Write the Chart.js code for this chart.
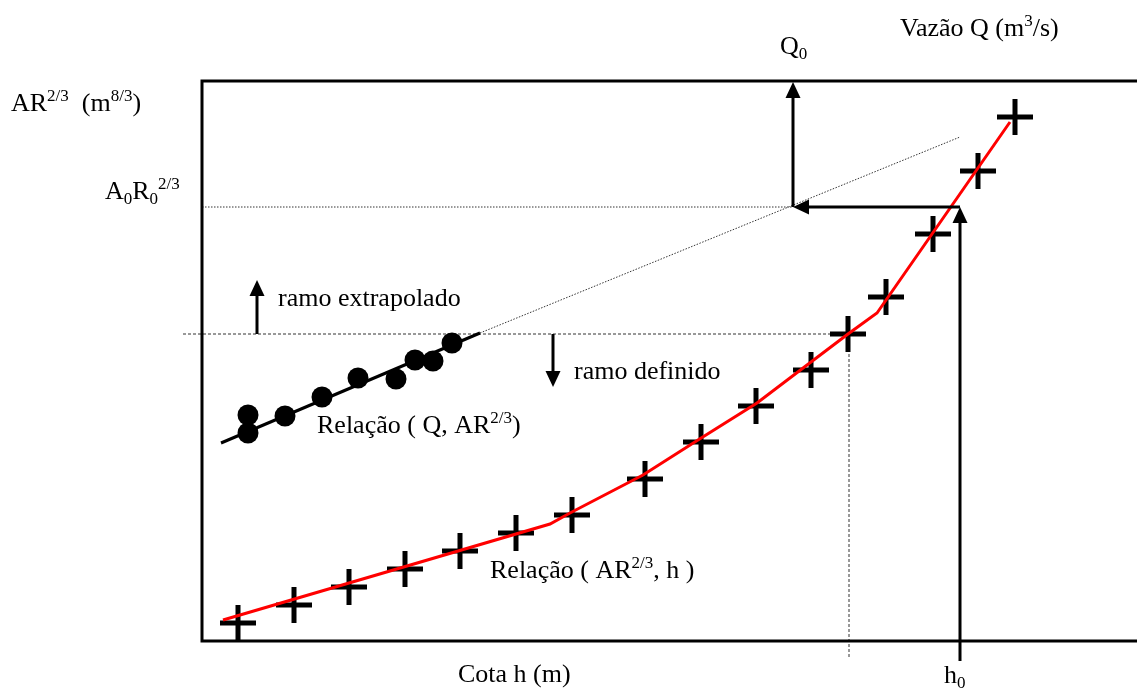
<!DOCTYPE html>
<html>
<head>
<meta charset="utf-8">
<script src="https://cdn.jsdelivr.net/npm/chart.js@4/dist/chart.umd.min.js"></script>
<style>
  html, body { margin: 0; padding: 0; background: #fff; }
  #wrap { width: 1137px; height: 689px; }
</style>
</head>
<body>
<div id="wrap"><canvas id="c" width="1137" height="689"></canvas></div>
<script>
// Cota h (horizontal) against AR^(2/3) (vertical), in drawing units
const crossH  = [36, 92, 147, 203, 258, 314, 370, 443, 499, 554, 609, 646, 684, 731, 776, 813];
const crossAR = [18, 36, 54, 72, 90, 108, 126, 162, 199, 235, 271, 307, 344, 407, 470, 524];

// fitted relation (AR^(2/3), h)
const curveH  = [21, 348, 368, 441, 496, 555, 609, 646, 675, 808];
const curveAR = [21, 117, 128, 166, 201, 238, 279, 307, 328, 519];

// measured pairs (Q, AR^(2/3))
const dotQ  = [46, 46, 83, 120, 156, 194, 213, 231, 250];
const dotAR = [226, 208, 225, 244, 263, 262, 281, 280, 298];

// straight fit through the measured pairs and its extrapolated branch
const fitQ  = [19, 278];
const fitAR = [198, 308];
const extQ  = [278, 758];
const extAR = [308, 504];

// reference levels
const limitAR = 307;   // boundary between defined and extrapolated branch
const limitH  = 647;
const a0r0    = 434;   // A0 R0^(2/3)
const q0      = 591;   // Q0
const h0      = 758;   // h0

const labelTexts = [
  'AR^{2/3}  (m^{8/3})',
  'A_{0}R_{0}^{2/3}',
  'Q_{0}',
  'Vazão Q (m^{3}/s)',
  'ramo extrapolado',
  'ramo definido',
  'Relação ( Q, AR^{2/3})',
  'Relação ( AR^{2/3}, h )',
  'Cota h (m)',
  'h_{0}'
];

const pts = (xs, ys) => xs.map((x, i) => ({ x: x, y: ys[i] }));

// arrows: [from x, from y, to x, to y] in drawing units
const arrows = [
  [q0, a0r0, q0, 559],
  [h0, a0r0, q0, a0r0],
  [h0, -20, h0, a0r0],
  [55, limitAR, 55, 361],
  [351, limitAR, 351, 254]
];

const labelPos = [
  [11, 111], [105, 199], [780, 54], [900, 36], [278, 306],
  [574, 379], [317, 433], [490, 578], [458, 682], [944, 683]
];

const BIG = '26px "Liberation Serif", "Times New Roman", serif';
const SMALL = '17px "Liberation Serif", "Times New Roman", serif';

function drawRich(ctx, text, x, y) {
  const parts = text.split(/(\^\{[^}]*\}|_\{[^}]*\})/).filter(s => s.length);
  let cx = x;
  for (const p of parts) {
    let t = p, dy = 0, font = BIG;
    if (p.startsWith('^{')) { t = p.slice(2, -1); dy = -10; font = SMALL; }
    else if (p.startsWith('_{')) { t = p.slice(2, -1); dy = 5; font = SMALL; }
    ctx.font = font;
    ctx.fillText(t, cx, y + dy);
    cx += ctx.measureText(t).width;
  }
}

const framePlugin = {
  id: 'frameAndNotes',
  afterDatasetsDraw(chart) {
    const ctx = chart.ctx;
    const a = chart.chartArea;
    const sx = chart.scales.x, sy = chart.scales.y;
    ctx.save();
    // frame (left, top, bottom)
    ctx.strokeStyle = '#000';
    ctx.lineWidth = 3;
    ctx.beginPath();
    ctx.moveTo(a.right + 2, a.top);
    ctx.lineTo(a.left, a.top);
    ctx.lineTo(a.left, a.bottom);
    ctx.lineTo(a.right + 2, a.bottom);
    ctx.stroke();

    // arrows
    ctx.fillStyle = '#000';
    const headLen = 16, headHalf = 7.5;
    for (const [x1, y1, x2, y2] of arrows) {
      const px1 = sx.getPixelForValue(x1), py1 = sy.getPixelForValue(y1);
      const px2 = sx.getPixelForValue(x2), py2 = sy.getPixelForValue(y2);
      const ang = Math.atan2(py2 - py1, px2 - px1);
      const bx = px2 - Math.cos(ang) * headLen, by = py2 - Math.sin(ang) * headLen;
      ctx.lineWidth = 3;
      ctx.beginPath();
      ctx.moveTo(px1, py1);
      ctx.lineTo(bx + Math.cos(ang) * 2, by + Math.sin(ang) * 2);
      ctx.stroke();
      ctx.beginPath();
      ctx.moveTo(px2, py2);
      ctx.lineTo(bx - Math.sin(ang) * headHalf, by + Math.cos(ang) * headHalf);
      ctx.lineTo(bx + Math.sin(ang) * headHalf, by - Math.cos(ang) * headHalf);
      ctx.closePath();
      ctx.fill();
    }

    // labels
    ctx.fillStyle = '#000';
    ctx.textBaseline = 'alphabetic';
    ctx.textAlign = 'left';
    labelTexts.forEach((t, i) => drawRich(ctx, t, labelPos[i][0], labelPos[i][1]));
    ctx.restore();
  }
};

new Chart(document.getElementById('c'), {
  type: 'scatter',
  data: {
    datasets: [
      { type: 'line', data: pts(curveH, curveAR), borderColor: '#ff0000', borderWidth: 3,
        pointRadius: 0, tension: 0, fill: false },
      { data: pts(crossH, crossAR), pointStyle: 'cross', pointRadius: 18,
        pointBorderColor: '#000', pointBorderWidth: 5, pointBackgroundColor: '#000' },
      { type: 'line', data: pts(fitQ, fitAR), borderColor: '#000', borderWidth: 3,
        pointRadius: 0, fill: false },
      { data: pts(dotQ, dotAR), pointStyle: 'circle', pointRadius: 10.5,
        pointBorderWidth: 0, pointBackgroundColor: '#000', pointBorderColor: '#000' },
      { type: 'line', data: pts(extQ, extAR), borderColor: '#333', borderWidth: 1,
        borderDash: [1.5, 1.5], pointRadius: 0, fill: false },
      { type: 'line', data: [{ x: -19, y: limitAR }, { x: limitH, y: limitAR }],
        borderColor: '#333', borderWidth: 1, borderDash: [3, 2], pointRadius: 0, fill: false, clip: false },
      { type: 'line', data: [{ x: limitH, y: limitAR }, { x: limitH, y: -17 }],
        borderColor: '#333', borderWidth: 1, borderDash: [3, 2], pointRadius: 0, fill: false, clip: false },
      { type: 'line', data: [{ x: 0, y: a0r0 }, { x: q0, y: a0r0 }],
        borderColor: '#333', borderWidth: 1, borderDash: [1.5, 1.5], pointRadius: 0, fill: false }
    ]
  },
  options: {
    responsive: false,
    animation: false,
    events: [],
    layout: { autoPadding: false, padding: { left: 202, top: 81, right: 0, bottom: 48 } },
    plugins: { legend: { display: false }, tooltip: { enabled: false } },
    scales: {
      x: { type: 'linear', min: 0, max: 935, display: false },
      y: { type: 'linear', min: 0, max: 560, display: false }
    }
  },
  plugins: [framePlugin]
});
</script>
</body>
</html>
